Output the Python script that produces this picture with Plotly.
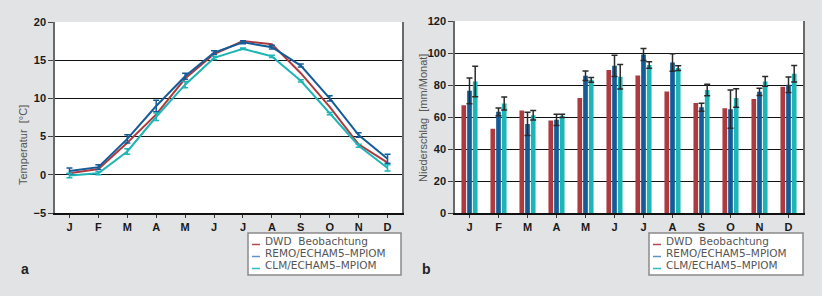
import plotly.graph_objects as go

months = ["J", "F", "M", "A", "M", "J", "J", "A", "S", "O", "N", "D"]
series_names = ["DWD  Beobachtung", "REMO/ECHAM5\u2013MPIOM", "CLM/ECHAM5\u2013MPIOM"]
colors = ["#ad3a3f", "#135c98", "#1db5b5"]
legend_dash_colors = ["#b9474b", "#5f93c4", "#2dbdbd"]

# Temperature [°C]
temp_dwd = [0.2, 0.75, 4.2, 7.9, 12.6, 15.8, 17.5, 17.1, 13.3, 8.9, 4.0, 1.6]
temp_remo = [0.5, 1.0, 4.7, 9.0, 12.9, 16.0, 17.35, 16.7, 14.3, 10.0, 5.2, 2.1]
temp_remo_err = [0.4, 0.3, 0.55, 0.75, 0.4, 0.25, 0.2, 0.25, 0.2, 0.35, 0.3, 0.6]
temp_clm = [-0.1, 0.2, 3.05, 7.6, 11.8, 15.3, 16.5, 15.5, 12.3, 8.0, 3.8, 0.9]
temp_clm_err = [0.3, 0.2, 0.35, 0.5, 0.4, 0.2, 0.1, 0.15, 0.15, 0.15, 0.2, 0.4]

# Precipitation [mm/Monat]
prec_dwd = [67.5, 52.7, 64.1, 57.9, 72.0, 89.4, 86.0, 76.0, 68.9, 65.6, 71.4, 79.0]
prec_remo = [76.4, 63.3, 55.8, 58.3, 85.8, 92.0, 99.1, 94.1, 66.2, 65.0, 75.8, 80.2]
prec_remo_err = [8.0, 2.4, 7.2, 3.5, 3.0, 6.7, 3.7, 5.5, 2.5, 12.0, 2.3, 4.8]
prec_clm = [82.3, 68.5, 61.2, 60.8, 83.3, 85.2, 92.5, 90.6, 76.9, 72.0, 82.3, 87.1]
prec_clm_err = [9.5, 4.0, 3.0, 1.0, 1.5, 7.6, 2.0, 1.5, 3.6, 5.8, 3.0, 5.2]

x = list(range(len(months)))
W, H = 822, 296

fig = go.Figure()

# --- temperature lines
temp_sets = [(temp_dwd, None), (temp_remo, temp_remo_err), (temp_clm, temp_clm_err)]
for i, (vals, err) in enumerate(temp_sets):
    tr = dict(x=x, y=vals, mode="lines", name=series_names[i],
              line=dict(color=colors[i], width=2), xaxis="x", yaxis="y",
              showlegend=False)
    if err is not None:
        tr["error_y"] = dict(type="data", array=err, visible=True,
                             color=colors[i], thickness=1.5, width=3)
    fig.add_trace(go.Scatter(**tr))

# --- precipitation bars
prec_sets = [(prec_dwd, None), (prec_remo, prec_remo_err), (prec_clm, prec_clm_err)]
for i, (vals, err) in enumerate(prec_sets):
    tr = dict(x=x, y=vals, name=series_names[i], marker=dict(color=colors[i], line=dict(width=0)),
              xaxis="x2", yaxis="y2", showlegend=False)
    if err is not None:
        tr["error_y"] = dict(type="data", array=err, visible=True,
                             color="#2a2a2a", thickness=1.5, width=3)
    fig.add_trace(go.Bar(**tr))

tickfont = dict(family="Liberation Sans", size=11, color="#1a1a1a", weight="bold")
monthfont = dict(family="Liberation Sans", size=11, color="#1a1a1a", weight="bold")

def px_x(p):
    return p / W

def px_y(p):
    return 1 - p / H

xcommon = dict(tickmode="array", tickvals=x, ticktext=months, range=[-0.5, 11.5],
               showgrid=False, zeroline=False, showline=True, linecolor="#111", linewidth=1.5,
               ticks="outside", ticklen=3, tickcolor="#333", tickfont=monthfont,
               automargin=False, fixedrange=True)
ycommon = dict(showgrid=True, gridcolor="#111", gridwidth=1.2, zeroline=False,
               showline=True, linecolor="#6a6a6a", linewidth=1.5, mirror=True,
               ticks="outside", ticklen=5, tickcolor="#444", tickfont=tickfont,
               automargin=False, fixedrange=True)

fig.update_layout(
    width=W, height=H, autosize=False,
    margin=dict(l=0, r=0, t=0, b=0, pad=0, autoexpand=False),
    paper_bgcolor="#e2e3e5", plot_bgcolor="#ffffff",
    barmode="group", bargap=0.41, bargroupgap=0.18,
    xaxis=dict(domain=[px_x(55), px_x(402)], anchor="y", **xcommon),
    yaxis=dict(domain=[px_y(213), px_y(22)], anchor="x", range=[-5, 20], dtick=5, **ycommon),
    xaxis2=dict(domain=[px_x(455), px_x(803)], anchor="y2", **xcommon),
    yaxis2=dict(domain=[px_y(213.3), px_y(21)], anchor="x2", range=[0, 120], dtick=20, **ycommon),
)

annotations = []
shapes = []

# axis titles
annotations.append(dict(text="Temperatur  [°C]", x=px_x(23), y=px_y(145), xref="paper", yref="paper",
                        showarrow=False, textangle=-90, xanchor="center", yanchor="middle",
                        font=dict(family="Liberation Sans", size=11, color="#555")))
annotations.append(dict(text="Niederschlag  [mm/Monat]", x=px_x(423), y=px_y(118), xref="paper", yref="paper",
                        showarrow=False, textangle=-90, xanchor="center", yanchor="middle",
                        font=dict(family="Liberation Sans", size=11, color="#555")))

# panel letters
annotations.append(dict(text="<b>a</b>", x=px_x(19), y=px_y(269), xref="paper", yref="paper",
                        showarrow=False, xanchor="left", yanchor="middle",
                        font=dict(family="Liberation Sans", size=14, color="#222")))
annotations.append(dict(text="<b>b</b>", x=px_x(420), y=px_y(269), xref="paper", yref="paper",
                        showarrow=False, xanchor="left", yanchor="middle",
                        font=dict(family="Liberation Sans", size=14, color="#222")))

# legends
legend_boxes = [(248, 401), (649, 803)]
row_y = [241.0, 253.0, 265.0]
for (bx0, bx1) in legend_boxes:
    shapes.append(dict(type="rect", xref="paper", yref="paper",
                       x0=px_x(bx0), x1=px_x(bx1), y0=px_y(275), y1=px_y(233),
                       fillcolor="#ffffff", line=dict(color="#8a8a8a", width=1.5)))
    for i, name in enumerate(series_names):
        shapes.append(dict(type="line", xref="paper", yref="paper",
                           x0=px_x(bx0 + 4), x1=px_x(bx0 + 12),
                           y0=px_y(row_y[i] + 3.5), y1=px_y(row_y[i] + 3.5),
                           line=dict(color=legend_dash_colors[i], width=1.5)))
        annotations.append(dict(text=name, x=px_x(bx0 + 15), y=px_y(row_y[i]), xref="paper", yref="paper",
                                showarrow=False, xanchor="left", yanchor="middle",
                                font=dict(family="DejaVu Sans", size=10.5, color="#555")))

fig.update_layout(annotations=annotations, shapes=shapes)

fig.write_html("out.html", config={"displayModeBar": False},
               post_script="document.body.style.margin='0px';document.body.style.overflow='hidden';")
